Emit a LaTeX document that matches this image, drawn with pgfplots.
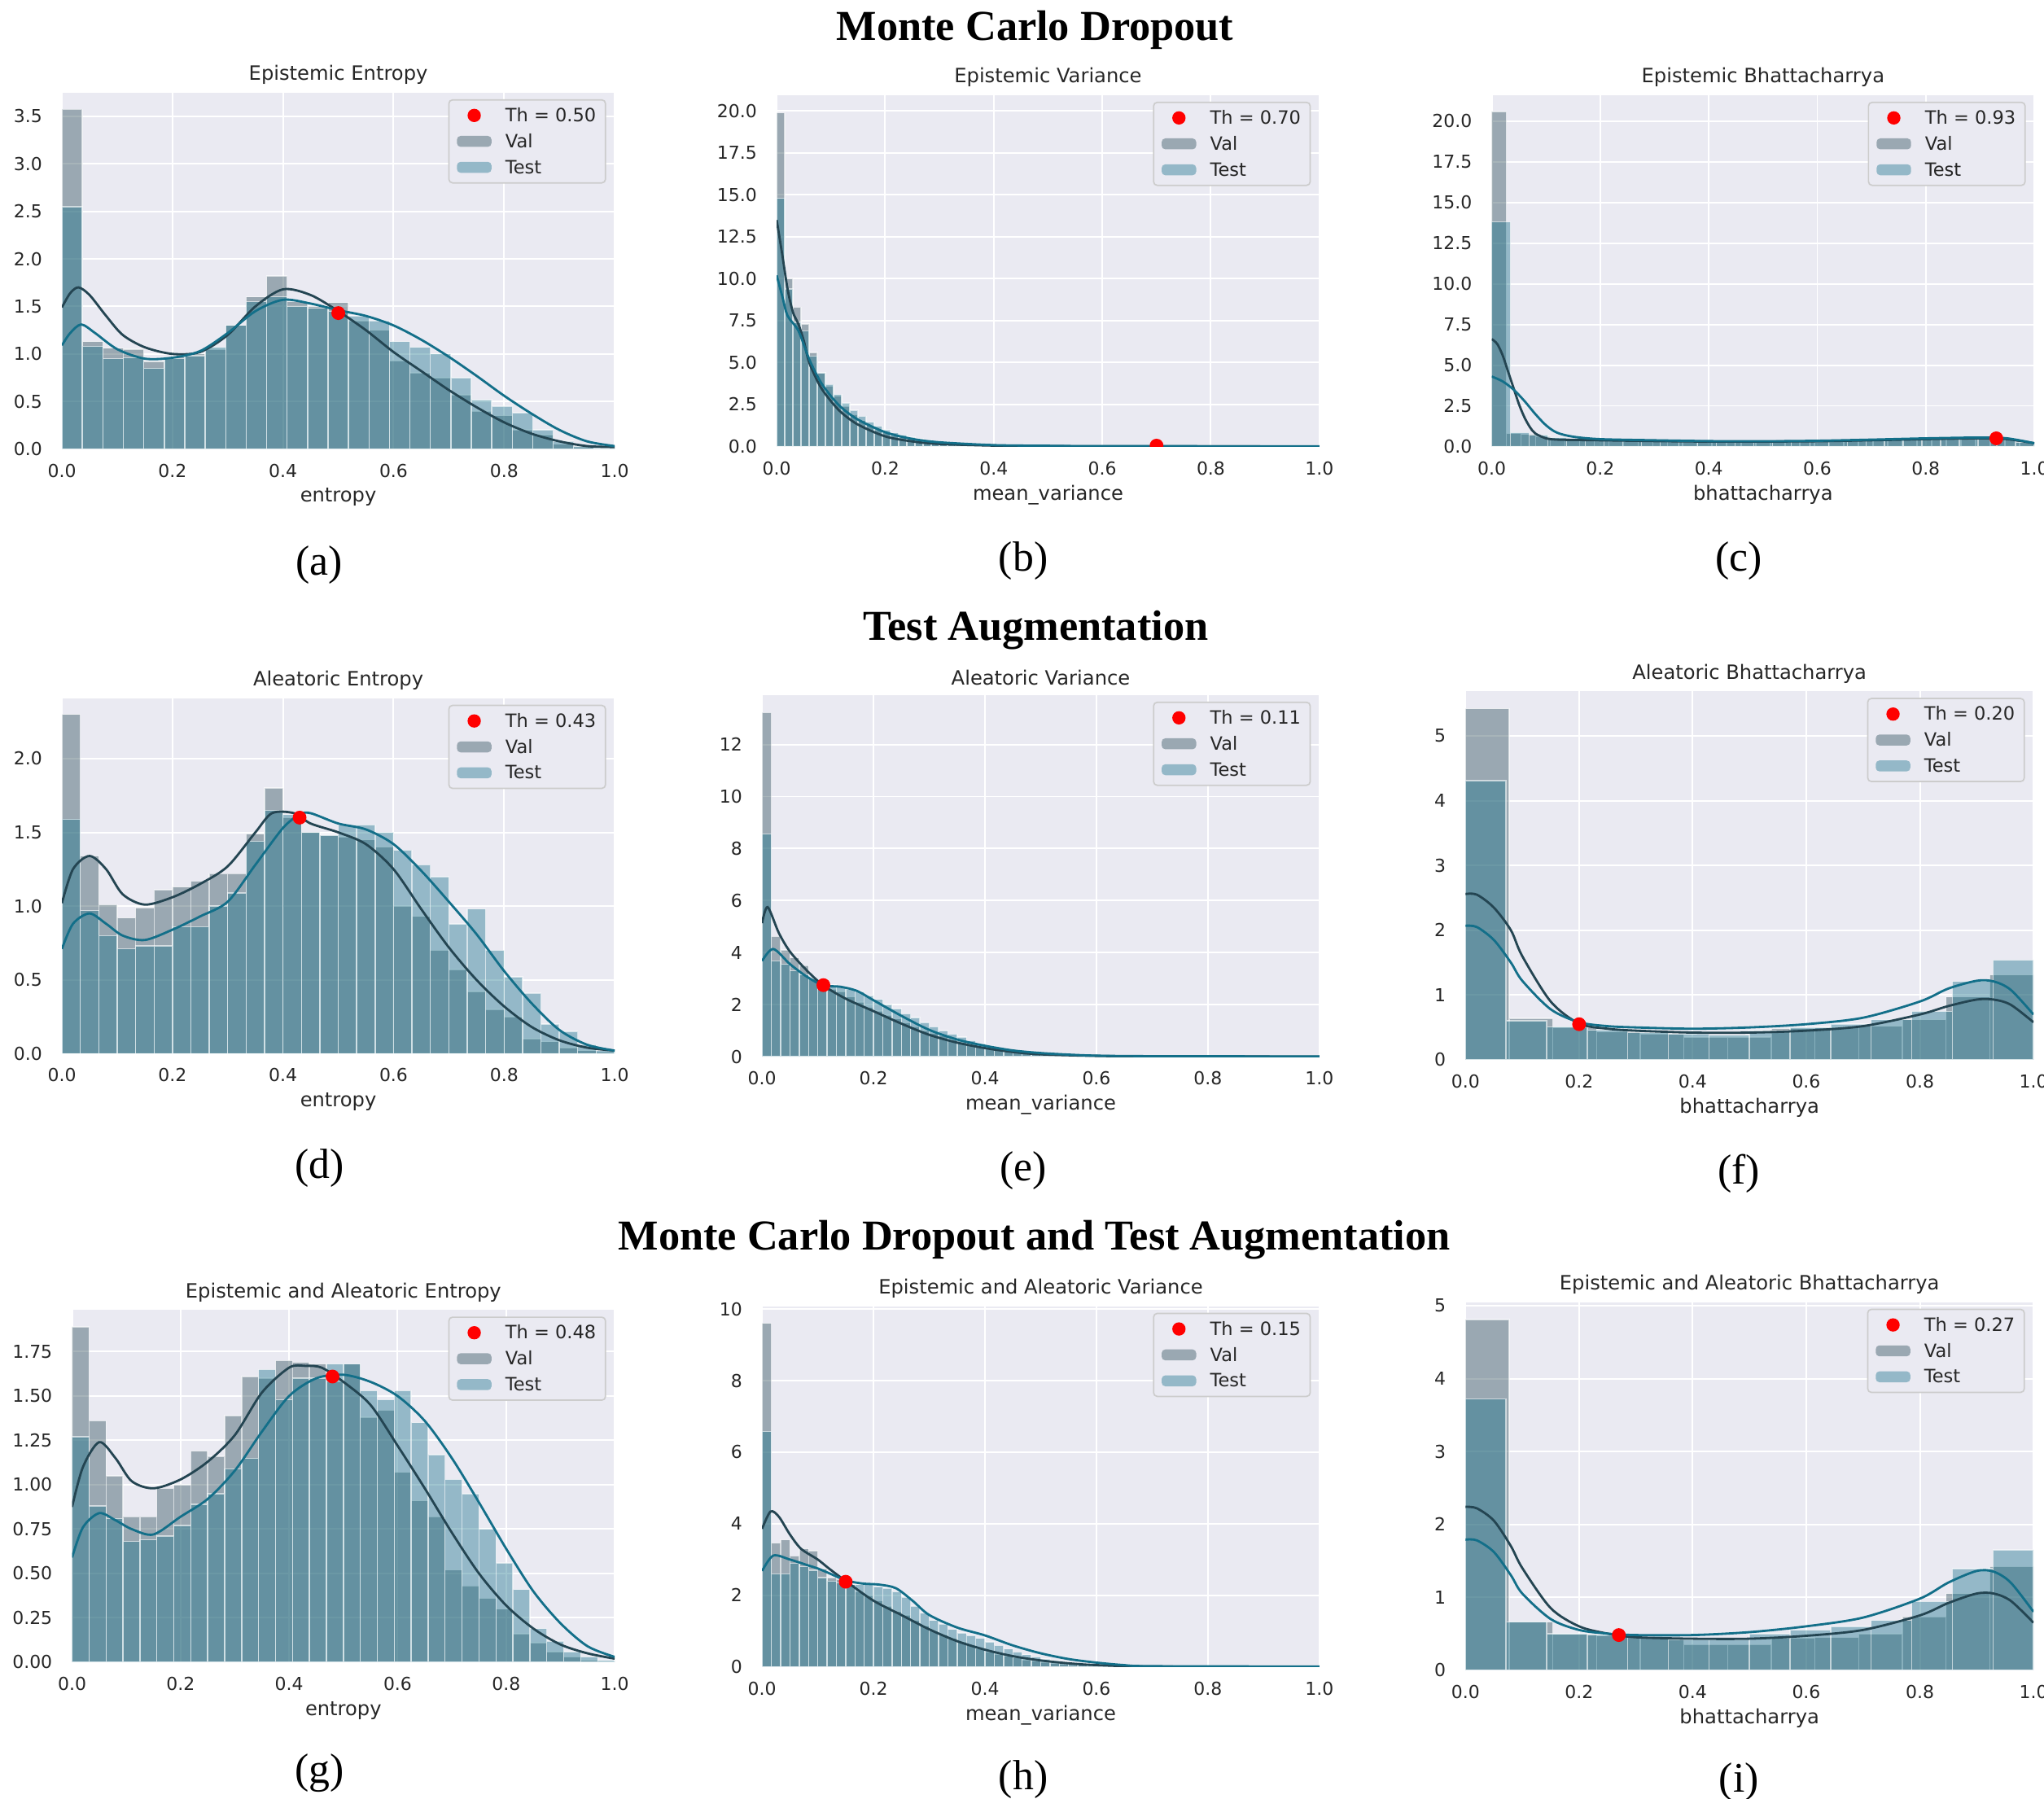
\documentclass[border=0pt]{standalone}
\usepackage{pgfplots}
\pgfplotsset{compat=1.18}
\usepackage{fontspec}
\setmainfont{Liberation Serif}
\newfontfamily\djv{DejaVu Sans}

\definecolor{bgc}{HTML}{EAEAF2}
\definecolor{valc}{HTML}{244552}
\definecolor{testc}{HTML}{136F89}
\definecolor{txtc}{HTML}{262626}
\definecolor{legedge}{HTML}{CCCCCC}

\newcommand{\tickf}{\djv\fontsize{3.9}{4.5}\selectfont}
\newcommand{\titf}{\djv\fontsize{4.3}{5}\selectfont}
\newcommand{\legf}{\djv\fontsize{4}{4.6}\selectfont}

\pgfplotsset{
 sns/.style={
  scale only axis, xmin=0, xmax=1, ymin=0,
  axis background/.style={fill=bgc},
  axis line style={draw=none},
  major tick length=0pt,
  grid=major,
  major grid style={white, line width=0.35pt},
  xtick={0,0.2,0.4,0.6,0.8,1},
  xticklabels={0.0,0.2,0.4,0.6,0.8,1.0},
  ticklabel style={font=\tickf, text=txtc},
  xticklabel style={anchor=center, yshift=-0.166cm},
  yticklabel style={anchor=east, inner sep=0pt, xshift=-0.145cm},
  title style={font=\titf, text=txtc, at={(axis description cs:0.5,1)}, anchor=center, yshift=-0.075cm},
  xlabel style={font=\titf, text=txtc, at={(axis description cs:0.5,0)}, anchor=center, yshift=-0.37cm},
  legend style={at={(axis description cs:1,1)}, anchor=north east, xshift=-0.065cm, yshift=-0.05cm,
    draw=legedge, fill=bgc, rounded corners=0.8pt, line width=0.3pt, font=\legf, text=txtc,
    inner xsep=1.76pt, inner ysep=1.55pt, row sep=1.96pt, column sep=2.74pt,
    nodes={inner sep=0.3pt, text height=2.9pt, text depth=0.2pt}},
  legend cell align=left,
 },
 hv/.style={ybar interval, fill=valc, fill opacity=0.4, draw=white, draw opacity=0.6, line width=0.25pt, forget plot},
 ht/.style={ybar interval, fill=testc, fill opacity=0.4, draw=white, draw opacity=0.6, line width=0.25pt, forget plot},
 kv/.style={valc, line width=0.5pt, smooth, forget plot, no markers},
 kt/.style={testc, line width=0.5pt, smooth, forget plot, no markers},
 th/.style={only marks, mark=*, mark size=1.3pt, color=red, forget plot},
 thlegcode/.style={legend image code/.code={\draw[##1] plot coordinates {(0.1325cm,0cm)};}},
 patchlegcode/.style={legend image code/.code={\fill[##1] (0cm,-0.042cm) rectangle (0.265cm,0.042cm);}},
}

\newcommand{\leg}[1]{%
 \addlegendimage{only marks, mark=*, mark size=1.3pt, red, thlegcode}
 \addlegendentry{Th = #1}
 \addlegendimage{fill=valc, fill opacity=0.4, draw=none, patchlegcode}
 \addlegendentry{Val}
 \addlegendimage{fill=testc, fill opacity=0.4, draw=none, patchlegcode}
 \addlegendentry{Test}
}

\begin{document}
\begin{tikzpicture}
\path[use as bounding box] (0,0) rectangle (15.68,13.80);

\node[font=\bfseries\fontsize{9.3}{11}\selectfont, anchor=base] at (7.94,13.49) {Monte Carlo Dropout};
\node[font=\bfseries\fontsize{9.3}{11}\selectfont, anchor=base] at (7.945,8.89) {Test Augmentation};
\node[font=\bfseries\fontsize{9.3}{11}\selectfont, anchor=base] at (7.935,4.21) {Monte Carlo Dropout and Test Augmentation};

\node[font=\fontsize{9.2}{11}\selectfont, anchor=base] at (2.45,9.39) {(a)};
\node[font=\fontsize{9.2}{11}\selectfont, anchor=base] at (7.85,9.42) {(b)};
\node[font=\fontsize{9.2}{11}\selectfont, anchor=base] at (13.34,9.42) {(c)};
\node[font=\fontsize{9.2}{11}\selectfont, anchor=base] at (2.45,4.76) {(d)};
\node[font=\fontsize{9.2}{11}\selectfont, anchor=base] at (7.85,4.74) {(e)};
\node[font=\fontsize{9.2}{11}\selectfont, anchor=base] at (13.34,4.72) {(f)};
\node[font=\fontsize{9.2}{11}\selectfont, anchor=base] at (2.45,0.12) {(g)};
\node[font=\fontsize{9.2}{11}\selectfont, anchor=base] at (7.85,0.07) {(h)};
\node[font=\fontsize{9.2}{11}\selectfont, anchor=base] at (13.34,0.05) {(i)};

% ---------------- (a)
\begin{axis}[sns, at={(0.475cm,10.356cm)}, anchor=south west, width=4.24cm, height=2.733cm,
  ymax=3.75, ytick={0,0.5,1,1.5,2,2.5,3,3.5}, yticklabels={0.0,0.5,1.0,1.5,2.0,2.5,3.0,3.5},
  title={Epistemic Entropy}, xlabel={entropy}]
\leg{0.50}
\addplot[hv] coordinates {(0,3.575)(0.0370,1.13)(0.0741,1.06)(0.1111,1.05)(0.1481,0.92)(0.1852,0.97)(0.2222,1.00)(0.2593,1.05)(0.2963,1.30)(0.3333,1.60)(0.3704,1.82)(0.4074,1.55)(0.4444,1.50)(0.4815,1.54)(0.5185,1.35)(0.5556,1.25)(0.5926,0.93)(0.6296,0.80)(0.6667,0.75)(0.7037,0.57)(0.7407,0.40)(0.7778,0.35)(0.8148,0.20)(0.8519,0.15)(0.8889,0.05)(0.9259,0.02)(0.9630,0.01)(1.0,0)};
\addplot[ht] coordinates {(0,2.55)(0.0370,1.08)(0.0741,0.95)(0.1111,0.96)(0.1481,0.85)(0.1852,0.95)(0.2222,0.98)(0.2593,1.07)(0.2963,1.30)(0.3333,1.55)(0.3704,1.60)(0.4074,1.50)(0.4444,1.48)(0.4815,1.45)(0.5185,1.40)(0.5556,1.35)(0.5926,1.13)(0.6296,1.07)(0.6667,1.00)(0.7037,0.75)(0.7407,0.52)(0.7778,0.45)(0.8148,0.38)(0.8519,0.20)(0.8889,0.08)(0.9259,0.03)(0.9630,0.01)(1.0,0)};
\addplot[kv] coordinates {(0,1.49)(0.015,1.64)(0.03,1.70)(0.05,1.62)(0.08,1.40)(0.11,1.20)(0.15,1.07)(0.2,1.0)(0.25,1.02)(0.3,1.20)(0.35,1.50)(0.4,1.68)(0.45,1.62)(0.5,1.45)(0.55,1.25)(0.6,1.02)(0.65,0.82)(0.7,0.62)(0.75,0.44)(0.8,0.28)(0.85,0.16)(0.9,0.08)(0.95,0.03)(1.0,0.02)};
\addplot[kt] coordinates {(0,1.09)(0.015,1.22)(0.035,1.31)(0.06,1.22)(0.1,1.05)(0.15,0.95)(0.2,0.96)(0.25,1.03)(0.3,1.22)(0.35,1.45)(0.4,1.57)(0.45,1.53)(0.5,1.46)(0.55,1.40)(0.6,1.30)(0.65,1.15)(0.7,0.97)(0.75,0.77)(0.8,0.56)(0.85,0.37)(0.9,0.2)(0.95,0.08)(1.0,0.03)};
\addplot[th] coordinates {(0.50,1.43)};
\end{axis}

% ---------------- (b)
\begin{axis}[sns, at={(5.958cm,10.375cm)}, anchor=south west, width=4.163cm, height=2.695cm,
  ymax=20.95, ytick={0,2.5,5,7.5,10,12.5,15,17.5,20}, yticklabels={0.0,2.5,5.0,7.5,10.0,12.5,15.0,17.5,20.0},
  title={Epistemic Variance}, xlabel={mean\_variance}]
\leg{0.70}
\addplot[hv] coordinates {(0,19.9)(0.015,10.0)(0.03,8.3)(0.045,7.3)(0.06,5.6)(0.075,4.4)(0.09,3.6)(0.105,3.0)(0.12,2.4)(0.135,1.9)(0.15,1.55)(0.165,1.25)(0.18,1.0)(0.195,0.82)(0.21,0.66)(0.225,0.54)(0.24,0.44)(0.255,0.36)(0.27,0.3)(0.285,0.24)(0.3,0.2)(0.315,0.17)(0.33,0.14)(0.345,0.11)(0.36,0.09)(0.375,0.08)(0.39,0.07)(0.405,0.06)(0.42,0.05)(0.435,0.04)(0.45,0.04)(0.465,0.03)(1.0,0)};
\addplot[ht] coordinates {(0,14.8)(0.015,9.4)(0.03,7.4)(0.045,6.9)(0.06,5.4)(0.075,4.4)(0.09,3.7)(0.105,3.1)(0.12,2.6)(0.135,2.15)(0.15,1.8)(0.165,1.45)(0.18,1.2)(0.195,1.0)(0.21,0.82)(0.225,0.68)(0.24,0.56)(0.255,0.46)(0.27,0.38)(0.285,0.31)(0.3,0.26)(0.315,0.21)(0.33,0.17)(0.345,0.14)(0.36,0.12)(0.375,0.1)(0.39,0.08)(0.405,0.07)(0.42,0.06)(0.435,0.05)(0.45,0.05)(0.465,0.04)(1.0,0)};
\addplot[kv] coordinates {(0,13.5)(0.01,11.5)(0.02,9.4)(0.03,8.0)(0.04,7.3)(0.05,6.3)(0.06,5.0)(0.08,3.6)(0.1,2.7)(0.12,2.0)(0.15,1.3)(0.2,0.6)(0.25,0.3)(0.3,0.15)(0.4,0.05)(0.5,0.02)(0.6,0.01)(1.0,0.0)};
\addplot[kt] coordinates {(0,10.2)(0.01,9.0)(0.02,7.8)(0.04,6.9)(0.06,5.2)(0.08,3.9)(0.1,3.0)(0.12,2.3)(0.15,1.6)(0.2,0.85)(0.25,0.45)(0.3,0.25)(0.4,0.08)(0.5,0.04)(0.6,0.02)(1.0,0.01)};
\addplot[th, clip marker paths=true] coordinates {(0.70,0.05)};
\end{axis}

% ---------------- (c)
\begin{axis}[sns, at={(11.444cm,10.375cm)}, anchor=south west, width=4.161cm, height=2.695cm,
  ymax=21.6, ytick={0,2.5,5,7.5,10,12.5,15,17.5,20}, yticklabels={0.0,2.5,5.0,7.5,10.0,12.5,15.0,17.5,20.0},
  title={Epistemic Bhattacharrya}, xlabel={bhattacharrya}]
\leg{0.93}
\addplot[hv] coordinates {(0,20.6)(0.027,0.80)(0.0541,0.75)(0.0811,0.62)(0.1081,0.52)(0.1351,0.46)(0.1622,0.42)(0.1892,0.40)(0.2162,0.38)(0.2432,0.37)(0.2703,0.36)(0.2973,0.35)(0.3243,0.34)(0.3514,0.33)(0.3784,0.33)(0.4054,0.32)(0.4324,0.32)(0.4595,0.32)(0.4865,0.32)(0.5135,0.33)(0.5405,0.33)(0.5676,0.34)(0.5946,0.35)(0.6216,0.36)(0.6486,0.38)(0.6757,0.40)(0.7027,0.42)(0.7297,0.44)(0.7568,0.46)(0.7838,0.48)(0.8108,0.50)(0.8378,0.52)(0.8649,0.53)(0.8919,0.54)(0.9189,0.55)(0.9459,0.45)(0.9730,0.25)(1.0,0)};
\addplot[ht] coordinates {(0,13.8)(0.0345,0.85)(0.069,0.70)(0.1034,0.55)(0.1379,0.46)(0.1724,0.42)(0.2069,0.40)(0.2414,0.38)(0.2759,0.37)(0.3103,0.36)(0.3448,0.35)(0.3793,0.35)(0.4138,0.34)(0.4483,0.34)(0.4828,0.35)(0.5172,0.36)(0.5517,0.37)(0.5862,0.39)(0.6207,0.41)(0.6552,0.43)(0.6897,0.46)(0.7241,0.49)(0.7586,0.52)(0.7931,0.55)(0.8276,0.58)(0.8621,0.60)(0.8966,0.60)(0.931,0.48)(0.9655,0.25)(1.0,0)};
\addplot[kv] coordinates {(0,6.6)(0.01,6.3)(0.02,5.6)(0.03,4.6)(0.04,3.6)(0.05,2.6)(0.06,1.8)(0.07,1.2)(0.08,0.8)(0.1,0.5)(0.12,0.42)(0.15,0.4)(0.2,0.38)(0.3,0.33)(0.4,0.3)(0.5,0.3)(0.6,0.32)(0.7,0.38)(0.8,0.45)(0.9,0.5)(0.95,0.45)(1.0,0.2)};
\addplot[kt] coordinates {(0,4.3)(0.02,4.0)(0.04,3.5)(0.06,2.8)(0.08,2.0)(0.1,1.3)(0.12,0.85)(0.15,0.6)(0.2,0.45)(0.3,0.38)(0.4,0.33)(0.5,0.32)(0.6,0.35)(0.7,0.42)(0.8,0.5)(0.9,0.55)(0.95,0.5)(1.0,0.2)};
\addplot[th] coordinates {(0.93,0.50)};
\end{axis}

% ---------------- (d)
\begin{axis}[sns, at={(0.475cm,5.718cm)}, anchor=south west, width=4.24cm, height=2.726cm,
  ymax=2.41, ytick={0,0.5,1,1.5,2}, yticklabels={0.0,0.5,1.0,1.5,2.0},
  title={Aleatoric Entropy}, xlabel={entropy}]
\leg{0.43}
\addplot[hv] coordinates {(0,2.30)(0.0333,1.34)(0.0667,1.01)(0.1,0.92)(0.1333,0.99)(0.1667,1.11)(0.2,1.13)(0.2333,1.17)(0.2667,1.22)(0.3,1.22)(0.3333,1.49)(0.3667,1.80)(0.4,1.60)(0.4333,1.50)(0.4667,1.48)(0.5,1.47)(0.5333,1.45)(0.5667,1.40)(0.6,1.00)(0.6333,0.93)(0.6667,0.70)(0.7,0.57)(0.7333,0.42)(0.7667,0.30)(0.8,0.25)(0.8333,0.10)(0.8667,0.08)(0.9,0.04)(0.9333,0.02)(0.9667,0.01)(1.0,0)};
\addplot[ht] coordinates {(0,1.59)(0.0333,0.97)(0.0667,0.80)(0.1,0.71)(0.1333,0.73)(0.1667,0.73)(0.2,0.86)(0.2333,0.86)(0.2667,1.00)(0.3,1.09)(0.3333,1.44)(0.3667,1.65)(0.4,1.62)(0.4333,1.50)(0.4667,1.48)(0.5,1.55)(0.5333,1.55)(0.5667,1.50)(0.6,1.38)(0.6333,1.28)(0.6667,1.20)(0.7,0.88)(0.7333,0.98)(0.7667,0.70)(0.8,0.52)(0.8333,0.41)(0.8667,0.20)(0.9,0.15)(0.9333,0.06)(0.9667,0.02)(1.0,0)};
\addplot[kv] coordinates {(0,1.02)(0.02,1.25)(0.05,1.34)(0.08,1.25)(0.11,1.08)(0.15,1.01)(0.2,1.06)(0.25,1.15)(0.3,1.27)(0.35,1.50)(0.38,1.63)(0.42,1.63)(0.45,1.56)(0.5,1.50)(0.55,1.42)(0.6,1.25)(0.65,0.98)(0.7,0.72)(0.75,0.50)(0.8,0.32)(0.85,0.18)(0.9,0.09)(0.95,0.04)(1.0,0.02)};
\addplot[kt] coordinates {(0,0.71)(0.02,0.88)(0.05,0.95)(0.08,0.88)(0.11,0.80)(0.15,0.77)(0.2,0.84)(0.25,0.93)(0.3,1.03)(0.35,1.28)(0.4,1.53)(0.43,1.62)(0.45,1.63)(0.5,1.56)(0.55,1.52)(0.6,1.42)(0.65,1.24)(0.7,1.03)(0.75,0.81)(0.8,0.56)(0.85,0.34)(0.9,0.16)(0.95,0.06)(1.0,0.02)};
\addplot[th] coordinates {(0.43,1.60)};
\end{axis}

% ---------------- (e)
\begin{axis}[sns, at={(5.846cm,5.694cm)}, anchor=south west, width=4.275cm, height=2.774cm,
  ymax=13.9, ytick={0,2,4,6,8,10,12}, yticklabels={0,2,4,6,8,10,12},
  title={Aleatoric Variance}, xlabel={mean\_variance}]
\leg{0.11}
\addplot[hv] coordinates {(0,13.23)(0.0167,4.62)(0.0333,4.1)(0.05,3.8)(0.0667,3.5)(0.0833,3.0)(0.1,2.75)(0.1167,2.6)(0.1333,2.5)(0.15,2.3)(0.1667,2.1)(0.1833,1.9)(0.2,1.75)(0.2167,1.6)(0.2333,1.45)(0.25,1.3)(0.2667,1.15)(0.2833,1.0)(0.3,0.9)(0.3167,0.8)(0.3333,0.65)(0.35,0.55)(0.3667,0.46)(0.3833,0.38)(0.4,0.31)(0.4167,0.25)(0.4333,0.2)(0.45,0.16)(0.4667,0.12)(0.4833,0.1)(0.5,0.07)(0.5167,0.05)(0.5333,0.04)(0.55,0.03)(0.5667,0.02)(0.8667,0)};
\addplot[ht] coordinates {(0,8.56)(0.0167,3.68)(0.0333,3.56)(0.05,3.3)(0.0667,3.15)(0.0833,3.0)(0.1,2.9)(0.1167,2.75)(0.1333,2.7)(0.15,2.6)(0.1667,2.5)(0.1833,2.35)(0.2,2.2)(0.2167,2.0)(0.2333,1.85)(0.25,1.65)(0.2667,1.5)(0.2833,1.32)(0.3,1.15)(0.3167,1.0)(0.3333,0.87)(0.35,0.75)(0.3667,0.62)(0.3833,0.5)(0.4,0.42)(0.4167,0.34)(0.4333,0.27)(0.45,0.21)(0.4667,0.16)(0.4833,0.13)(0.5,0.1)(0.5167,0.08)(0.5333,0.06)(0.55,0.05)(0.5667,0.03)(1.0,0)};
\addplot[kv] coordinates {(0,5.13)(0.01,5.75)(0.03,4.76)(0.05,4.04)(0.08,3.32)(0.11,2.74)(0.15,2.23)(0.2,1.75)(0.25,1.27)(0.3,0.84)(0.35,0.54)(0.4,0.33)(0.45,0.18)(0.5,0.09)(0.6,0.03)(0.7,0.01)(1.0,0.005)};
\addplot[kt] coordinates {(0,3.68)(0.02,4.14)(0.05,3.56)(0.08,3.08)(0.11,2.74)(0.14,2.69)(0.17,2.53)(0.2,2.17)(0.25,1.57)(0.3,1.03)(0.35,0.66)(0.4,0.42)(0.45,0.24)(0.5,0.14)(0.55,0.08)(0.6,0.04)(0.7,0.02)(1.0,0.01)};
\addplot[th] coordinates {(0.11,2.75)};
\end{axis}

% ---------------- (f)
\begin{axis}[sns, at={(11.242cm,5.67cm)}, anchor=south west, width=4.357cm, height=2.827cm,
  ymax=5.69, ytick={0,1,2,3,4,5}, yticklabels={0,1,2,3,4,5},
  title={Aleatoric Bhattacharrya}, xlabel={bhattacharrya}]
\leg{0.20}
\addplot[hv] coordinates {(0,5.42)(0.0769,0.64)(0.1538,0.50)(0.2308,0.43)(0.3077,0.40)(0.3846,0.35)(0.4615,0.35)(0.5385,0.48)(0.6154,0.50)(0.6923,0.52)(0.7692,0.62)(0.8462,0.97)(0.9231,1.31)(1.0,0)};
\addplot[ht] coordinates {(0,4.31)(0.0714,0.60)(0.1429,0.51)(0.2143,0.46)(0.2857,0.42)(0.3571,0.40)(0.4286,0.38)(0.5,0.45)(0.5714,0.50)(0.6429,0.55)(0.7143,0.62)(0.7857,0.75)(0.8571,1.21)(0.9286,1.54)(1.0,0)};
\addplot[kv] coordinates {(0,2.56)(0.02,2.55)(0.05,2.35)(0.08,2.0)(0.1,1.6)(0.15,0.9)(0.2,0.56)(0.25,0.48)(0.3,0.45)(0.4,0.42)(0.5,0.42)(0.6,0.45)(0.7,0.52)(0.8,0.7)(0.85,0.83)(0.9,0.93)(0.93,0.93)(0.96,0.85)(1.0,0.58)};
\addplot[kt] coordinates {(0,2.07)(0.02,2.05)(0.05,1.85)(0.08,1.5)(0.1,1.22)(0.15,0.78)(0.2,0.58)(0.25,0.52)(0.3,0.5)(0.4,0.48)(0.5,0.5)(0.6,0.55)(0.7,0.65)(0.8,0.9)(0.85,1.1)(0.9,1.22)(0.93,1.21)(0.96,1.08)(1.0,0.7)};
\addplot[th] coordinates {(0.20,0.55)};
\end{axis}

% ---------------- (g)
\begin{axis}[sns, at={(0.553cm,1.049cm)}, anchor=south west, width=4.162cm, height=2.702cm,
  ymax=1.985, ytick={0,0.25,0.5,0.75,1,1.25,1.5,1.75}, yticklabels={0.00,0.25,0.50,0.75,1.00,1.25,1.50,1.75},
  title={Epistemic and Aleatoric Entropy}, xlabel={entropy}]
\leg{0.48}
\addplot[hv] coordinates {(0,1.89)(0.03125,1.36)(0.0625,1.05)(0.09375,0.82)(0.125,0.82)(0.15625,0.98)(0.1875,1.00)(0.21875,1.19)(0.25,1.16)(0.28125,1.39)(0.3125,1.61)(0.34375,1.60)(0.375,1.70)(0.40625,1.69)(0.4375,1.68)(0.46875,1.58)(0.5,1.68)(0.53125,1.38)(0.5625,1.42)(0.59375,1.07)(0.625,0.91)(0.65625,0.82)(0.6875,0.52)(0.71875,0.43)(0.75,0.36)(0.78125,0.30)(0.8125,0.16)(0.84375,0.11)(0.875,0.06)(0.90625,0.03)(0.9375,0.01)(0.96875,0.005)(1.0,0)};
\addplot[ht] coordinates {(0,1.27)(0.03125,0.88)(0.0625,0.81)(0.09375,0.68)(0.125,0.69)(0.15625,0.71)(0.1875,0.77)(0.21875,0.89)(0.25,0.95)(0.28125,1.09)(0.3125,1.15)(0.34375,1.65)(0.375,1.48)(0.40625,1.60)(0.4375,1.60)(0.46875,1.68)(0.5,1.68)(0.53125,1.53)(0.5625,1.48)(0.59375,1.53)(0.625,1.35)(0.65625,1.17)(0.6875,1.03)(0.71875,0.95)(0.75,0.75)(0.78125,0.56)(0.8125,0.41)(0.84375,0.19)(0.875,0.12)(0.90625,0.06)(0.9375,0.03)(0.96875,0.01)(1.0,0)};
\addplot[kv] coordinates {(0,0.875)(0.02,1.1)(0.05,1.24)(0.08,1.15)(0.11,1.02)(0.15,0.98)(0.2,1.03)(0.25,1.13)(0.3,1.28)(0.35,1.52)(0.4,1.66)(0.43,1.67)(0.46,1.66)(0.5,1.58)(0.55,1.45)(0.6,1.22)(0.65,0.98)(0.7,0.73)(0.75,0.50)(0.8,0.32)(0.85,0.19)(0.9,0.10)(0.95,0.05)(1.0,0.02)};
\addplot[kt] coordinates {(0,0.59)(0.02,0.76)(0.05,0.84)(0.08,0.80)(0.11,0.75)(0.15,0.72)(0.2,0.82)(0.25,0.92)(0.3,1.08)(0.35,1.30)(0.4,1.50)(0.45,1.60)(0.5,1.62)(0.55,1.58)(0.6,1.50)(0.65,1.36)(0.7,1.15)(0.75,0.90)(0.8,0.64)(0.85,0.40)(0.9,0.22)(0.95,0.09)(1.0,0.03)};
\addplot[th] coordinates {(0.48,1.61)};
\end{axis}

% ---------------- (h)
\begin{axis}[sns, at={(5.846cm,1.013cm)}, anchor=south west, width=4.275cm, height=2.767cm,
  ymax=10.08, ytick={0,2,4,6,8,10}, yticklabels={0,2,4,6,8,10},
  title={Epistemic and Aleatoric Variance}, xlabel={mean\_variance}]
\leg{0.15}
\addplot[hv] coordinates {(0,9.6)(0.0167,3.46)(0.0333,3.55)(0.05,3.1)(0.0667,3.3)(0.0833,3.25)(0.1,2.75)(0.1167,2.5)(0.1333,2.45)(0.15,2.3)(0.1667,2.1)(0.1833,2.0)(0.2,1.85)(0.2167,1.7)(0.2333,1.55)(0.25,1.45)(0.2667,1.3)(0.2833,1.15)(0.3,1.0)(0.3167,0.9)(0.3333,0.8)(0.35,0.7)(0.3667,0.6)(0.3833,0.5)(0.4,0.42)(0.4167,0.36)(0.4333,0.3)(0.45,0.25)(0.4667,0.2)(0.4833,0.16)(0.5,0.13)(0.5167,0.1)(0.5333,0.08)(0.55,0.06)(0.5667,0.05)(0.5833,0.04)(0.6,0.03)(0.6167,0.015)(0.9167,0)};
\addplot[ht] coordinates {(0,6.58)(0.0167,2.6)(0.0333,2.6)(0.05,2.9)(0.0667,2.8)(0.0833,2.7)(0.1,2.5)(0.1167,2.4)(0.1333,2.35)(0.15,2.3)(0.1667,2.3)(0.1833,2.3)(0.2,2.25)(0.2167,2.2)(0.2333,2.1)(0.25,1.95)(0.2667,1.7)(0.2833,1.5)(0.3,1.3)(0.3167,1.2)(0.3333,1.05)(0.35,0.95)(0.3667,0.88)(0.3833,0.8)(0.4,0.7)(0.4167,0.6)(0.4333,0.5)(0.45,0.42)(0.4667,0.34)(0.4833,0.28)(0.5,0.22)(0.5167,0.18)(0.5333,0.14)(0.55,0.1)(0.5667,0.08)(0.5833,0.06)(0.6,0.05)(0.6167,0.02)(1.0,0)};
\addplot[kv] coordinates {(0,3.86)(0.015,4.34)(0.03,4.2)(0.05,3.7)(0.07,3.3)(0.1,3.0)(0.12,2.75)(0.15,2.4)(0.2,1.85)(0.25,1.45)(0.3,1.05)(0.35,0.72)(0.4,0.48)(0.45,0.3)(0.5,0.18)(0.55,0.1)(0.6,0.05)(0.7,0.01)(1.0,0)};
\addplot[kt] coordinates {(0,2.68)(0.02,3.11)(0.05,3.0)(0.08,2.85)(0.1,2.75)(0.12,2.62)(0.15,2.42)(0.18,2.33)(0.21,2.30)(0.24,2.2)(0.27,1.85)(0.3,1.45)(0.35,1.1)(0.4,0.88)(0.45,0.6)(0.5,0.38)(0.55,0.22)(0.6,0.12)(0.65,0.05)(0.7,0.02)(1.0,0.01)};
\addplot[th] coordinates {(0.15,2.38)};
\end{axis}

% ---------------- (i)
\begin{axis}[sns, at={(11.242cm,0.989cm)}, anchor=south west, width=4.357cm, height=2.822cm,
  ymax=5.05, ytick={0,1,2,3,4,5}, yticklabels={0,1,2,3,4,5},
  title={Epistemic and Aleatoric Bhattacharrya}, xlabel={bhattacharrya}]
\leg{0.27}
\addplot[hv] coordinates {(0,4.81)(0.0769,0.66)(0.1538,0.49)(0.2308,0.47)(0.3077,0.44)(0.3846,0.35)(0.4615,0.35)(0.5385,0.44)(0.6154,0.45)(0.6923,0.50)(0.7692,0.73)(0.8462,1.05)(0.9231,1.42)(1.0,0)};
\addplot[ht] coordinates {(0,3.72)(0.0714,0.66)(0.1429,0.50)(0.2143,0.48)(0.2857,0.45)(0.3571,0.42)(0.4286,0.42)(0.5,0.50)(0.5714,0.55)(0.6429,0.60)(0.7143,0.68)(0.7857,0.94)(0.8571,1.39)(0.9286,1.65)(1.0,0)};
\addplot[kv] coordinates {(0,2.24)(0.02,2.22)(0.05,2.05)(0.08,1.7)(0.1,1.4)(0.15,0.85)(0.2,0.6)(0.25,0.5)(0.3,0.45)(0.4,0.43)(0.5,0.43)(0.6,0.47)(0.7,0.55)(0.8,0.75)(0.85,0.92)(0.9,1.05)(0.93,1.05)(0.96,0.95)(1.0,0.65)};
\addplot[kt] coordinates {(0,1.79)(0.02,1.78)(0.05,1.62)(0.08,1.3)(0.1,1.05)(0.15,0.7)(0.2,0.55)(0.25,0.5)(0.3,0.48)(0.4,0.48)(0.5,0.52)(0.6,0.6)(0.7,0.72)(0.8,0.98)(0.85,1.2)(0.9,1.36)(0.93,1.35)(0.96,1.2)(1.0,0.8)};
\addplot[th] coordinates {(0.27,0.48)};
\end{axis}

\end{tikzpicture}
\end{document}
